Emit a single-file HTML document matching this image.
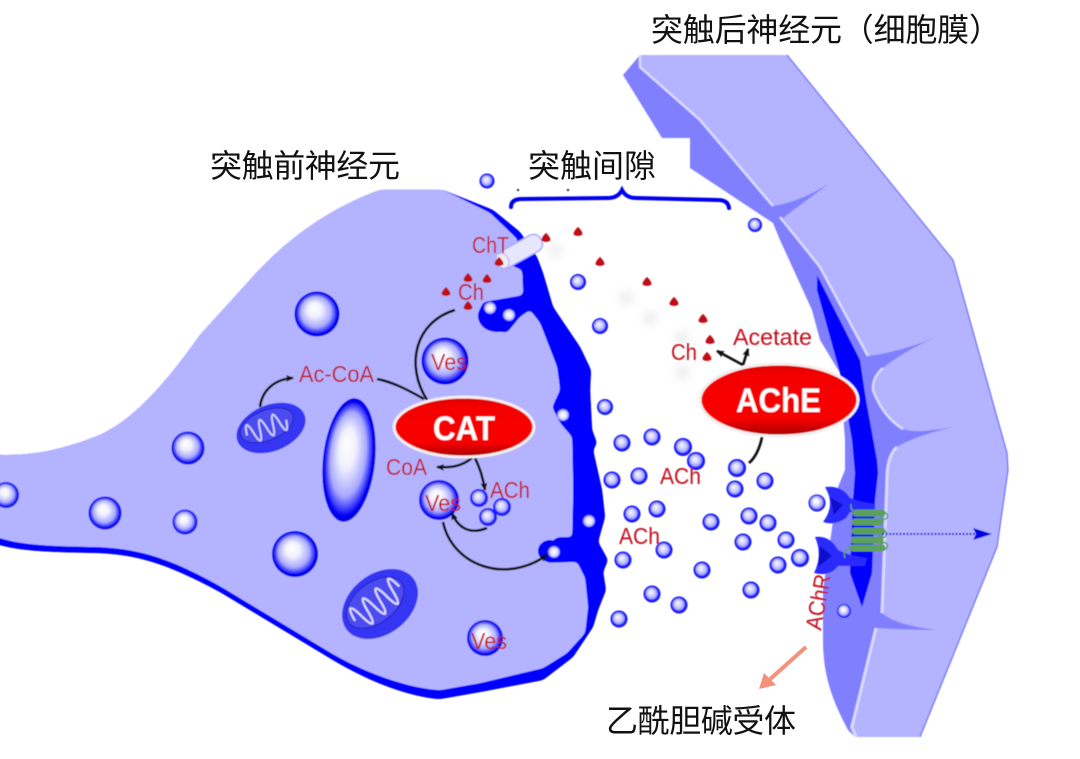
<!DOCTYPE html>
<html lang="zh-CN"><head><meta charset="utf-8"><title>突触</title>
<style>
html,body{margin:0;padding:0;background:#fff}
svg{display:block}
.r{font-family:"Liberation Sans",sans-serif;fill:#c20f1a;font-size:23px}
.w{font-family:"Liberation Sans",sans-serif;fill:#fff;font-weight:bold;font-size:34px}
.z{font-family:"Liberation Sans","Noto Sans CJK SC",sans-serif;fill:#111;font-size:32px}
</style></head><body>
<svg width="1080" height="759" viewBox="0 0 1080 759" xmlns="http://www.w3.org/2000/svg">
<defs>
<radialGradient id="b" cx="50%" cy="50%" r="50%" fx="42%" fy="36%">
<stop offset="0" stop-color="#fff"/><stop offset=".32" stop-color="#f0f0ff"/><stop offset=".68" stop-color="#a8a8ff"/><stop offset=".84" stop-color="#4040ff"/><stop offset=".93" stop-color="#0000ee"/><stop offset="1" stop-color="#0000ee"/></radialGradient>
<radialGradient id="s" cx="50%" cy="50%" r="50%" fx="42%" fy="38%">
<stop offset="0" stop-color="#f8f8ff"/><stop offset=".4" stop-color="#d0d0ff"/><stop offset=".66" stop-color="#9a9aff"/><stop offset=".78" stop-color="#2020ff"/><stop offset="1" stop-color="#1010ff"/></radialGradient>
<radialGradient id="wb"><stop offset="0" stop-color="#fff"/><stop offset=".6" stop-color="#e0e0ff"/><stop offset="1" stop-color="#8080ff"/></radialGradient>
<linearGradient id="red" x1="0" y1="0" x2="0" y2="1"><stop offset="0" stop-color="#d80000"/><stop offset=".15" stop-color="#f40000"/><stop offset=".75" stop-color="#f80000"/><stop offset="1" stop-color="#a80000"/></linearGradient>
<filter id="sf" x="-5%" y="-5%" width="110%" height="110%"><feGaussianBlur stdDeviation=".45"/></filter>
<filter id="gb" x="-100%" y="-100%" width="300%" height="300%"><feGaussianBlur stdDeviation="5"/></filter>
<filter id="goo" filterUnits="userSpaceOnUse" x="-20" y="170" width="680" height="560" color-interpolation-filters="sRGB"><feGaussianBlur stdDeviation="2.4"/><feColorMatrix type="matrix" values="1 0 0 0 0 0 1 0 0 0 0 0 1 0 0 0 0 0 16 -7"/></filter>
<symbol id="dot" overflow="visible"><path d="M0,-5C2,-3.5 4.5,0 4.5,2 3.5,4.5 -3.5,4.5 -4.5,2-4.5,0-2,-3.5 0,-5Z" fill="#c00f18"/></symbol>
<marker id="ah" markerWidth="9" markerHeight="8" refX="7" refY="3.5" orient="auto" markerUnits="userSpaceOnUse"><path d="M0,0L8,3.5L0,7L1.5,3.5Z" fill="#111"/></marker>
</defs>
<g filter="url(#sf)">
<g fill="#bbb" opacity=".35" filter="url(#gb)"><circle cx="422" cy="310" r="6"/><circle cx="446" cy="322" r="6"/><circle cx="555" cy="250" r="6"/><circle cx="626" cy="298" r="6"/><circle cx="650" cy="318" r="6"/><circle cx="682" cy="338" r="6"/><circle cx="682" cy="372" r="6"/></g>

<!-- postsynaptic -->
<path d="M623,75L640,55L787,55L953,260L1007,453L1008,470L997,547L920,737L855,737L848,730C835,705 823,680 823,640L823,590L838,487L845,470L845,440L840,373L820,340L812,310L780,240L773,223L690,168L690,138L662,138Z" fill="#8080ff"/>
<path d="M640,55L787,55L953,260L1007,453L1008,470L997,547L920,737L855,737L850,727L877,628Q905,630 937,630Q895,625 882,613L887,480Q887,456 897,447Q915,436 953,427Q915,434 903,429Q883,417 873,390Q872,378 883,368Q905,350 937,337Q900,352 868,356L820,267L783,218Q800,205 830,183Q800,202 773,206L700,120L640,67Z" fill="#b3b3ff"/>
<g fill="none" stroke="#d9d9ff" stroke-width="2.5">
<path d="M640,55L640,67L700,120L773,206"/>
<path d="M780,217L820,267L868,356"/>
<path d="M883,368Q872,378 873,390Q883,417 903,429"/>
<path d="M897,447Q887,456 887,480L882,613" stroke-width="3"/>
<path d="M876,628L852,727L856,737" stroke-width="3"/>
</g>
<path d="M787,55L953,260L1007,453L1008,470L997,547L920,737" fill="none" stroke="#6a6aff" stroke-width="1.2"/>
<path d="M817,275L860,360L866,400L877,460L878,473L875,500L872,573L862,607L850,573L853,500L855,473L852,440L840,373L817,290Z" fill="#0000ff"/>
<!-- presynaptic -->
<path filter="url(#goo)" d="M-20,455L0,455C30,456 60,451 100,435C130,421 160,392 200,335L250,280C285,240 330,208 380,190L443,190L493,210L520,232L537,257L543,273L553,307L580,347L591,370L590,390L592,430L597,443L593,450L602,490L605,517L598,542L608,560L603,572L606,590L598,610L593,627L573,657L543,680L480,692L440,699C410,697 370,682 333,660L220,592C170,565 140,555 100,553C60,552 25,552 0,545L-20,540Z" fill="#0000ff"/>
<path filter="url(#goo)" d="M-20,455L0,455C30,456 60,451 100,435C130,421 160,392 200,335L250,280C285,240 330,208 380,190L443,190L490,213L518,240L510,265L522,270L523,295L483,302L478,313L490,330L507,333L520,317L530,310L540,323L557,367L560,390L552,407L560,423L572,437L573,490L572,537L557,537L538,553L547,563L577,562L585,578L588,607L585,633L567,653L543,668L480,683L440,690C410,688 370,675 333,654L220,586C170,558 140,549 100,547C60,546 25,546 0,538L-20,533Z" fill="#b3b3ff"/>
<ellipse cx="497" cy="316" rx="19" ry="16" fill="#0000ff"/><path d="M485,302H525V312L510,325Z" fill="#0000ff"/>
<ellipse cx="550" cy="551" rx="12" ry="11" fill="#0000ff"/>
<!-- membrane vesicles -->
<g fill="url(#wb)"><circle cx="490" cy="308" r="6"/><circle cx="509" cy="315" r="6"/><circle cx="563" cy="415" r="6"/><circle cx="589" cy="521" r="6"/><circle cx="554" cy="552" r="6"/></g>
<!-- transporter -->
<g transform="translate(520,251) rotate(-29)"><rect x="-24" y="-9" width="48" height="18" rx="8" fill="#e6e6ff" stroke="#a8a8ff" stroke-width="1.5"/><ellipse cx="-20" cy="0" rx="6" ry="8" fill="#eee" stroke="#a8a8ff"/></g>
<!-- big balls -->
<g fill="url(#b)"><circle cx="317" cy="314" r="22.5"/><circle cx="188" cy="448" r="16.5"/><circle cx="105" cy="513" r="16.5"/><circle cx="6" cy="495" r="13"/><circle cx="185" cy="522" r="12.5"/><circle cx="295" cy="554" r="23"/><circle cx="445" cy="361" r="23.5"/><circle cx="439" cy="500" r="20"/><circle cx="485" cy="638" r="18"/>
<ellipse cx="349" cy="460" rx="26" ry="62" transform="rotate(6 349 460)"/></g>
<!-- mitochondria -->
<g transform="translate(271,428) rotate(-22)"><ellipse rx="36" ry="23" fill="#3434f4"/><ellipse cx="-3" cy="-4" rx="28" ry="15" fill="#4c4cf0" stroke="#2020c0"/><path d="M-25,-2c2,-13 5,-13 7,0s5,13 7,0s5,-13 7,0s5,13 7,0s5,-13 7,0s5,13 7,0" fill="none" stroke="#d0d0ff" stroke-width="2"/></g>
<g transform="translate(380,604) rotate(-38)"><ellipse rx="42" ry="30" fill="#3434f4"/><ellipse cx="-3" cy="-4" rx="33" ry="20" fill="#4c4cf0" stroke="#2020c0"/><path d="M-30,-2c2,-17 6,-17 8,0s6,17 8,0s6,-17 8,0s6,17 8,0s6,-17 8,0s6,17 8,0s6,-17 8,0" fill="none" stroke="#d8d8ff" stroke-width="2.3"/></g>
<!-- small balls -->
<g fill="url(#s)">
<circle cx="487" cy="181" r="7.5"/><circle cx="755" cy="225" r="7"/><circle cx="578" cy="282" r="8"/><circle cx="600" cy="326" r="8"/><circle cx="605" cy="407" r="8"/>
<circle cx="622" cy="443" r="8.5"/><circle cx="652" cy="437" r="8.5"/><circle cx="683" cy="447" r="9"/><circle cx="696" cy="461" r="9"/><circle cx="737" cy="468" r="9"/><circle cx="735" cy="489" r="8.5"/><circle cx="765" cy="481" r="8.5"/><circle cx="612" cy="480" r="8.5"/><circle cx="639" cy="476" r="8.5"/><circle cx="632" cy="514" r="8.5"/><circle cx="657" cy="509" r="8.5"/><circle cx="711" cy="522" r="8.5"/><circle cx="749" cy="516" r="8.5"/><circle cx="768" cy="523" r="8.5"/><circle cx="743" cy="542" r="8.5"/><circle cx="786" cy="540" r="8.5"/><circle cx="800" cy="558" r="9"/><circle cx="778" cy="565" r="8.5"/><circle cx="664" cy="550" r="8.5"/><circle cx="623" cy="560" r="8.5"/><circle cx="702" cy="570" r="8.5"/><circle cx="751" cy="590" r="8.5"/><circle cx="652" cy="594" r="8.5"/><circle cx="679" cy="605" r="8.5"/><circle cx="619" cy="619" r="8.5"/>
<circle cx="479" cy="498" r="9"/><circle cx="502" cy="507" r="9"/><circle cx="488" cy="517" r="9"/>
</g>
<!-- receptor -->
<path d="M825,487Q842,485 850,498Q860,502 875,504L875,512L850,512L846,518Q835,526 823,522Q836,505 825,487Z" fill="#2c2cff"/>
<path d="M815,537Q830,535 838,550Q850,556 867,558L865,566L838,566Q830,577 814,573Q823,555 815,537Z" fill="#2c2cff"/>
<path d="M830,497L843,505L834,515Z" fill="#0000a8" opacity=".6"/><path d="M820,546L832,556L818,567Z" fill="#0000a8" opacity=".6"/>
<circle cx="817" cy="503" r="8.5" fill="url(#b)"/><circle cx="844" cy="611" r="7" fill="url(#b)"/>
<g fill="none" stroke="#5ca05c" stroke-width="7" stroke-linecap="round"><path d="M856,513H882"/><path d="M855,522H880"/><path d="M855,531H882"/><path d="M854,540H880"/><path d="M853,548H882"/></g>
<g fill="none" stroke="#5ca05c" stroke-width="1.5"><circle cx="884" cy="516" r="3.5"/><circle cx="883" cy="534" r="3.5"/><circle cx="884" cy="546" r="3.5"/><path d="M851,504Q850,510 855,512M845,558Q842,550 852,547"/></g>
<path d="M882,534H975" stroke="#1010e0" stroke-width="2" stroke-dasharray="2 1.5"/>
<path d="M973,528L992,534L973,540L976,534Z" fill="#0000e0"/>
<!-- bracket -->
<path d="M511,207Q511,199 522,199L608,198Q618,198 622,190Q626,198 636,198L718,200Q728,200 729,208" fill="none" stroke="#0000ee" stroke-width="4" stroke-linecap="round"/>
<path d="M518,189v2M568,189v2" stroke="#222" stroke-width="2"/>
<!-- choline -->
<g><use href="#dot" x="499" y="262"/><use href="#dot" x="546" y="238"/><use href="#dot" x="578" y="232"/><use href="#dot" x="600" y="262"/><use href="#dot" x="468" y="278"/><use href="#dot" x="487" y="279"/><use href="#dot" x="446" y="292"/><use href="#dot" x="468" y="306"/><use href="#dot" x="647" y="282"/><use href="#dot" x="674" y="302"/><use href="#dot" x="703" y="319"/><use href="#dot" x="710" y="340"/><use href="#dot" x="707" y="357"/></g>
<!-- arrows -->
<g fill="none" stroke="#111" stroke-width="2.6">
<path d="M260,407C262,390 275,379 293,378" marker-end="url(#ah)"/>
<path d="M377,379C393,382 408,390 424,399"/>
<path d="M455,310C415,322 405,365 427,400"/>
<path d="M472,458C462,466 452,468 437,467" marker-end="url(#ah)"/>
<path d="M475,458C480,468 483,478 485,490" marker-end="url(#ah)"/>
<path d="M487,528C470,535 458,528 452,513" marker-end="url(#ah)"/>
<path d="M443,522C452,565 505,585 547,555" marker-end="url(#ah)"/>
<path d="M762,437C760,448 755,458 749,463"/>
<path d="M743,365L717,351" marker-end="url(#ah)"/>
<path d="M743,365L748,349" marker-end="url(#ah)"/>
</g>
<!-- enzymes -->
<ellipse cx="464" cy="427" rx="70" ry="30" fill="url(#red)" stroke="#f4eeee" stroke-width="3"/>
<ellipse cx="779" cy="400" rx="79" ry="36" fill="url(#red)" stroke="#f4eeee" stroke-width="3"/>
<text class="w" x="433" y="440" textLength="62" lengthAdjust="spacingAndGlyphs">CAT</text>
<text class="w" x="736" y="412" textLength="85" lengthAdjust="spacingAndGlyphs">AChE</text>
<!-- labels -->
<text class="r" x="472" y="253" textLength="37" lengthAdjust="spacingAndGlyphs">ChT</text>
<text class="r" x="458" y="300" textLength="26" lengthAdjust="spacingAndGlyphs">Ch</text>
<text class="r" x="431" y="370" textLength="36" lengthAdjust="spacingAndGlyphs">Ves</text>
<text class="r" x="299" y="382" textLength="75" lengthAdjust="spacingAndGlyphs">Ac-CoA</text>
<text class="r" x="386" y="475" textLength="41" lengthAdjust="spacingAndGlyphs">CoA</text>
<text class="r" x="490" y="498" textLength="40" lengthAdjust="spacingAndGlyphs">ACh</text>
<text class="r" x="425" y="511" textLength="36" lengthAdjust="spacingAndGlyphs">Ves</text>
<text class="r" x="471" y="649" textLength="36" lengthAdjust="spacingAndGlyphs">Ves</text>
<text class="r" x="660" y="484" textLength="41" lengthAdjust="spacingAndGlyphs">ACh</text>
<text class="r" x="619" y="544" textLength="41" lengthAdjust="spacingAndGlyphs">ACh</text>
<text class="r" x="671" y="360" textLength="26" lengthAdjust="spacingAndGlyphs">Ch</text>
<text class="r" x="733" y="345" textLength="79" lengthAdjust="spacingAndGlyphs">Acetate</text>
<text class="r" transform="translate(821,631) rotate(-80)" textLength="56" lengthAdjust="spacingAndGlyphs">AChR</text>
</g>
<path d="M806,647L768,681" stroke="#f4917a" stroke-width="4" fill="none"/>
<path d="M759,689L764,673L776,685Z" fill="#f4917a"/>
<text class="z" x="651" y="41" textLength="350">突触后神经元（细胞膜）</text>
<text class="z" x="210" y="177" textLength="190">突触前神经元</text>
<text class="z" x="528" y="177" textLength="128">突触间隙</text>
<text class="z" x="606" y="732" textLength="190">乙酰胆碱受体</text>
</svg>
</body></html>
